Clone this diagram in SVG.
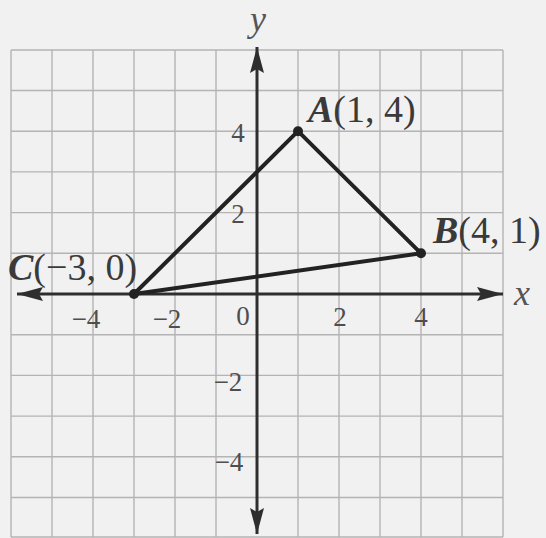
<svg xmlns="http://www.w3.org/2000/svg" width="546" height="538" viewBox="0 0 546 538">
  <style>
    .grid { stroke: #b4b4b4; stroke-width: 1.4; fill: none; }
    .axis { stroke: #2e2e2e; stroke-width: 3; fill: none; }
    .edge { stroke: #222; stroke-width: 4; fill: none; stroke-linecap: round; }
    .pt { fill: #222; }
    .tick { font-family: "Liberation Serif", "Times New Roman", serif; font-size: 27px; fill: #4e4e4e; text-anchor: middle; }
    .lbl { font-family: "Liberation Serif", "Times New Roman", serif; font-size: 38px; fill: #3a3a3a; }
    .var { font-style: italic; font-weight: bold; }
    .axlbl { font-family: "Liberation Serif", "Times New Roman", serif; font-style: italic; font-size: 36px; fill: #555; text-anchor: middle; }
  </style>
  <defs>
    <marker id="arr" markerUnits="userSpaceOnUse" markerWidth="28" markerHeight="16" refX="26" refY="8" orient="auto">
      <path d="M0,1 L26,8 L0,15 L4,8 Z" fill="#2e2e2e"/>
    </marker>
  </defs>
  <rect width="546" height="538" fill="#f1f1f1"/>
  <g id="grid">
    <path class="grid" d="M11,50V537 M52,50V537 M93,50V537 M134,50V537 M175,50V537 M216,50V537 M298,50V537 M339,50V537 M380,50V537 M421,50V537 M462,50V537 M503,50V537"/>
    <path class="grid" d="M11,50H503 M11,90.5H503 M11,131.2H503 M11,171.9H503 M11,212.6H503 M11,253.3H503 M11,334.7H503 M11,375.4H503 M11,416.1H503 M11,456.8H503 M11,497.5H503 M11,537H503"/>
  </g>
  <g id="axes">
    <line class="axis" x1="257" y1="294" x2="503" y2="294" marker-end="url(#arr)"/>
    <line class="axis" x1="257" y1="294" x2="17" y2="294" marker-end="url(#arr)"/>
    <line class="axis" x1="257" y1="294" x2="257" y2="47" marker-end="url(#arr)"/>
    <line class="axis" x1="257" y1="294" x2="257" y2="534" marker-end="url(#arr)"/>
    <text class="axlbl" x="258" y="31">y</text>
    <text class="axlbl" x="522" y="305">x</text>
  </g>
  <g id="ticks">
    <text class="tick" x="86" y="328">−4</text>
    <text class="tick" x="167" y="328">−2</text>
    <text class="tick" x="243" y="325">0</text>
    <text class="tick" x="340" y="326">2</text>
    <text class="tick" x="421" y="326">4</text>
    <text class="tick" x="238" y="142">4</text>
    <text class="tick" x="238" y="223">2</text>
    <text class="tick" x="228" y="391">−2</text>
    <text class="tick" x="229" y="471">−4</text>
  </g>
  <g id="connectors">
    <line class="edge" x1="298" y1="131.2" x2="421" y2="253.3"/>
    <line class="edge" x1="421" y1="253.3" x2="134" y2="294"/>
    <line class="edge" x1="134" y1="294" x2="298" y2="131.2"/>
  </g>
  <g id="A">
    <circle class="pt" cx="298" cy="131.2" r="5"/>
    <text class="lbl" x="308" y="122"><tspan class="var">A</tspan>(1, 4)</text>
  </g>
  <g id="B">
    <circle class="pt" cx="421" cy="253.3" r="5"/>
    <text class="lbl" x="433" y="243"><tspan class="var">B</tspan>(4, 1)</text>
  </g>
  <g id="C">
    <circle class="pt" cx="134" cy="294" r="5"/>
    <text class="lbl" x="8" y="280"><tspan class="var">C</tspan>(−3, 0)</text>
  </g>
</svg>
